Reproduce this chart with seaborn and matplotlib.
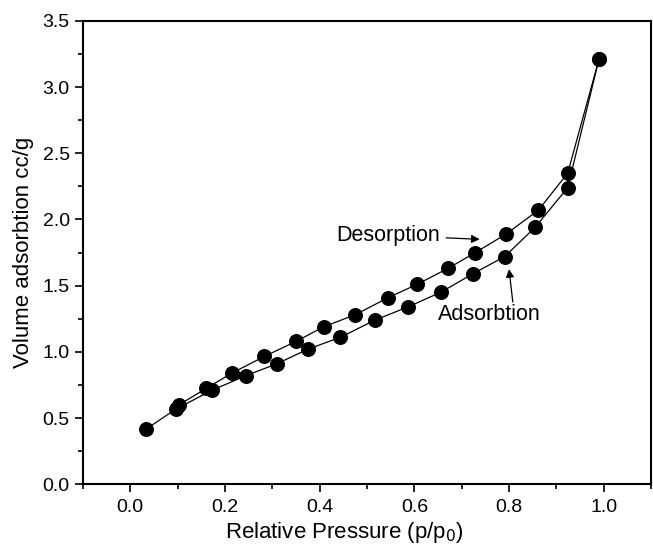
import numpy as np
import pandas as pd
import seaborn as sns
import matplotlib.pyplot as plt
from matplotlib.ticker import MultipleLocator

# isotherm data
ads_p = [0.033, 0.096, 0.173, 0.244, 0.31, 0.375, 0.444, 0.517, 0.587, 0.656, 0.724, 0.791, 0.855, 0.924, 0.99]
ads_v = [0.415, 0.567, 0.71, 0.82, 0.91, 1.02, 1.11, 1.24, 1.34, 1.45, 1.59, 1.72, 1.94, 2.24, 3.21]
des_p = [0.99, 0.924, 0.862, 0.794, 0.729, 0.671, 0.606, 0.545, 0.475, 0.409, 0.351, 0.283, 0.215, 0.161, 0.103]
des_v = [3.21, 2.35, 2.07, 1.89, 1.75, 1.63, 1.51, 1.41, 1.28, 1.19, 1.08, 0.965, 0.84, 0.725, 0.60]
xticks = [0.0, 0.2, 0.4, 0.6, 0.8, 1.0]

ads = pd.DataFrame({"p": ads_p, "v": ads_v})
des = pd.DataFrame({"p": des_p, "v": des_v})

sns.set_style("ticks")
plt.rcParams["font.family"] = ["Liberation Sans", "DejaVu Sans"]
plt.rcParams["text.color"] = "black"
plt.rcParams["axes.labelcolor"] = "black"
plt.rcParams["xtick.color"] = "black"
plt.rcParams["ytick.color"] = "black"
plt.rcParams["axes.edgecolor"] = "black"

fig = plt.figure(figsize=(6.53, 5.49), dpi=100)
ax = fig.add_axes([0.127, 0.118, 0.870, 0.844])

for df in (ads, des):
    sns.lineplot(data=df, x="p", y="v", sort=False, estimator=None, ax=ax,
                 color="black", linewidth=0.9, marker="o", markersize=10,
                 markeredgecolor="black", markerfacecolor="black")

ax.set_xlim(-0.1, 1.1)
ax.set_ylim(0, 3.5)
ax.set_xticks(xticks)
ax.set_xticklabels([f"{t:.1f}" for t in xticks])
ax.xaxis.set_minor_locator(MultipleLocator(0.1))
ax.yaxis.set_major_locator(MultipleLocator(0.5))
ax.yaxis.set_minor_locator(MultipleLocator(0.25))

for s in ax.spines.values():
    s.set_linewidth(1.5)
    s.set_visible(True)
ax.tick_params(which="major", direction="out", length=6, width=1.2, labelsize=14)
ax.tick_params(axis="x", which="major", pad=5)
ax.tick_params(which="minor", direction="out", length=3.5, width=1.2)

ax.set_xlabel("Relative Pressure (p/p$_0$)", fontsize=16)
ax.xaxis.set_label_coords(0.461, -0.077, transform=ax.transAxes)
ax.xaxis.label.set_va("top")
ax.set_ylabel("Volume adsorbtion cc/g", fontsize=16, labelpad=6)

ax.annotate("Desorption", xy=(0.738, 1.85), xytext=(0.545, 1.88), fontsize=15.5,
            ha="center", va="center",
            arrowprops=dict(arrowstyle="-|>", color="black", lw=0.9, shrinkA=2, shrinkB=0,
                            mutation_scale=12))
ax.annotate("", xy=(0.80, 1.625), xytext=(0.808, 1.376),
            arrowprops=dict(arrowstyle="-|>", color="black", lw=0.9, shrinkA=0, shrinkB=0,
                            mutation_scale=12))
ax.text(0.758, 1.285, "Adsorbtion", fontsize=15.5, ha="center", va="center")

fig.savefig("out.png", dpi=100)
